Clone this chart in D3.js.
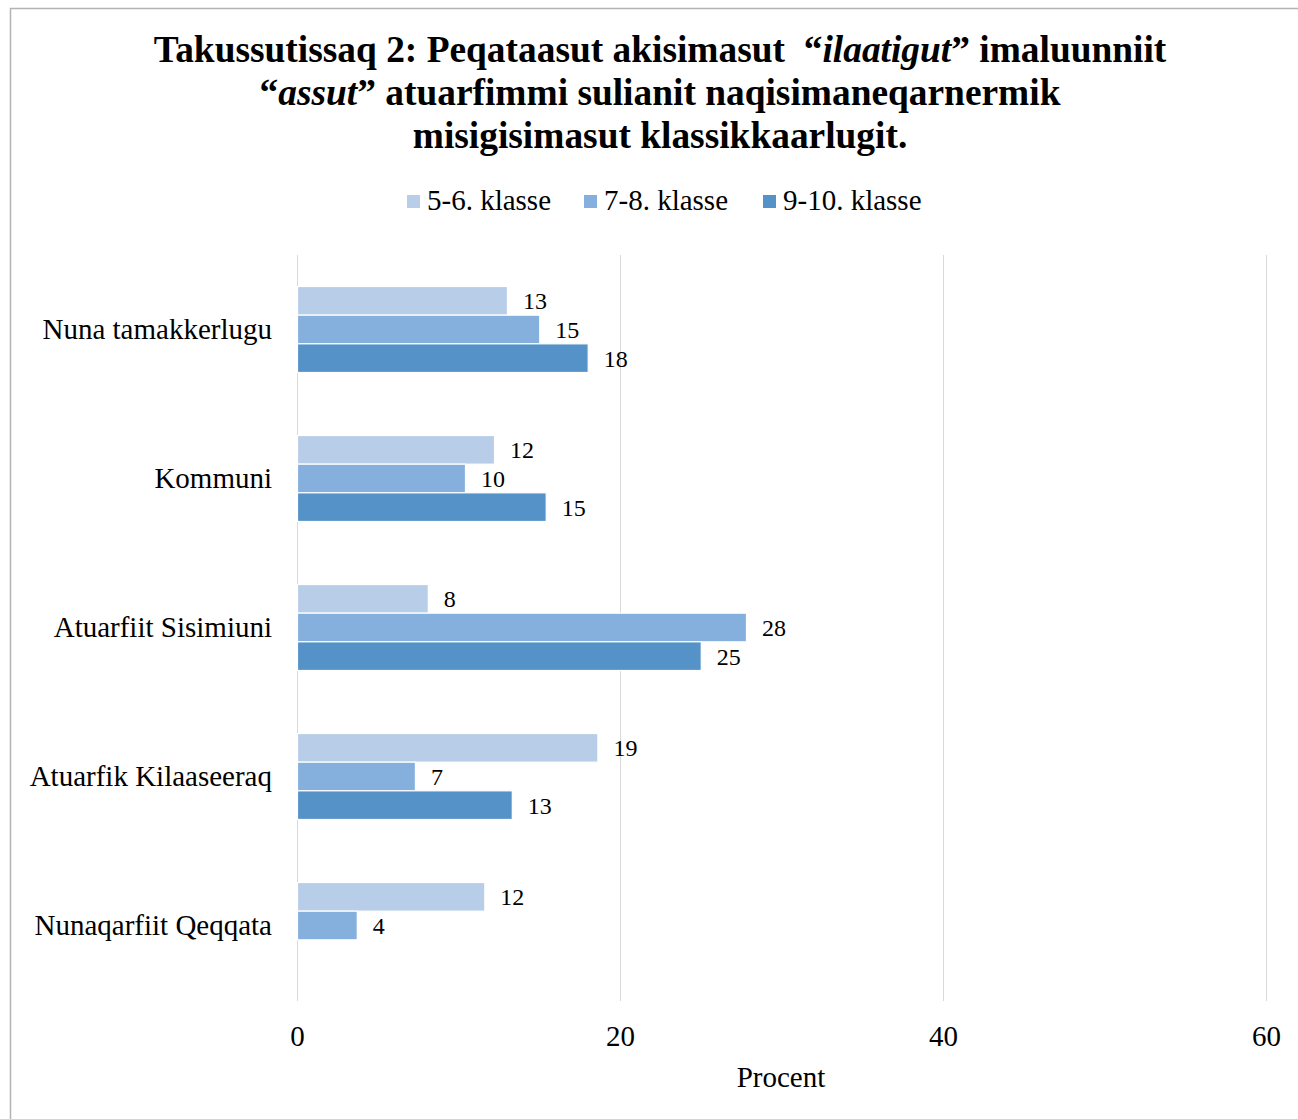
<!DOCTYPE html>
<html><head><meta charset="utf-8">
<script src="https://cdn.jsdelivr.net/npm/d3@7"></script>
<style>body{margin:0;background:#fff}svg{display:block}</style>
</head><body>
<svg id="c" width="1298" height="1119"></svg>
<script>
const categories = ["Nuna tamakkerlugu","Kommuni","Atuarfiit Sisimiuni","Atuarfik Kilaaseeraq","Nunaqarfiit Qeqqata"];
const seriesNames = ["5-6. klasse","7-8. klasse","9-10. klasse"];
const s56 = [13.0, 12.2, 8.1, 18.6, 11.6];
const s78 = [15.0, 10.4, 27.8, 7.3, 3.7];
const s910 = [18.0, 15.4, 25.0, 13.3, null];
const xTicks = [0, 20, 40, 60];
const colors = ["#b8cde8", "#85afdc", "#5592c8"];

const seriesVals = [s56, s78, s910];
const svg = d3.select("#c");
const font = "'Liberation Serif','Times New Roman',serif";

// border
svg.append("path").attr("d","M10.5,1200 L10.5,8.5 L1400,8.5").attr("fill","none").attr("stroke","#b3b3b3").attr("stroke-width",1.5);

// title
const title = svg.append("text").attr("x",660).attr("text-anchor","middle")
  .attr("font-family",font).attr("font-weight","bold").attr("font-size",37.4).attr("fill","#000");
const l1 = title.append("tspan").attr("x",660).attr("y",62);
l1.append("tspan").text("Takussutissaq 2: Peqataasut akisimasut\u00a0 \u201c");
l1.append("tspan").attr("font-style","italic").text("ilaatigut");
l1.append("tspan").text("\u201d imaluunniit");
const l2 = title.append("tspan").attr("x",660).attr("y",105);
l2.append("tspan").text("\u201c");
l2.append("tspan").attr("font-style","italic").text("assut");
l2.append("tspan").text("\u201d atuarfimmi sulianit naqisimaneqarnermik");
title.append("tspan").attr("x",660).attr("y",148).text("misigisimasut klassikkaarlugit.");

const x = d3.scaleLinear().domain([0,60]).range([297,1266]);
const y0 = d3.scaleBand().domain(categories).range([255,1000]).padding(0);
const y1 = d3.scaleBand().domain(seriesNames).range([0,y0.bandwidth()]).paddingInner(0).paddingOuter(1.1);

// gridlines
svg.append("g").selectAll("line").data(xTicks).join("line")
  .attr("x1",d=>x(d)+0.5).attr("x2",d=>x(d)+0.5).attr("y1",255).attr("y2",1001)
  .attr("stroke","#d9d9d9").attr("stroke-width",1);

// x axis labels via d3 axis
const xa = svg.append("g").attr("transform","translate(0,1001)")
  .call(d3.axisBottom(x).tickValues(xTicks).tickSize(0).tickPadding(0).tickFormat(d3.format("d")));
xa.select(".domain").remove();
xa.selectAll("text").attr("font-family",font).attr("font-size",29).attr("fill","#000").attr("dy",null).attr("y",45);

// y axis labels
const ya = svg.append("g").attr("transform","translate(297,0)")
  .call(d3.axisLeft(y0).tickSize(0).tickPadding(25));
ya.select(".domain").remove();
ya.selectAll("text").attr("font-family",font).attr("font-size",29).attr("fill","#000");

// bars
const g = svg.append("g");
categories.forEach((c,i)=>{
  seriesNames.forEach((s,j)=>{
    const v = seriesVals[j][i];
    if(v==null) return;
    const yy = y0(c)+y1(s);
    g.append("rect").attr("x",x(0)+0.5).attr("y",yy).attr("width",x(v)-x(0)).attr("height",y1.bandwidth())
      .attr("fill",colors[j]).attr("stroke","#fff").attr("stroke-width",1.2);
    g.append("text").attr("x",x(v)+16).attr("y",yy+y1.bandwidth()/2).attr("dy","0.35em")
      .attr("font-family",font).attr("font-size",24).attr("fill","#000").text(d3.format(".0f")(v));
  });
});

// axis title
svg.append("text").attr("x",781).attr("y",1087).attr("text-anchor","middle")
  .attr("font-family",font).attr("font-size",29).attr("fill","#000").text("Procent");

// legend
const legX = [407, 584, 763];
const lg = svg.append("g");
seriesNames.forEach((s,j)=>{
  lg.append("rect").attr("x",legX[j]).attr("y",195).attr("width",13).attr("height",13).attr("fill",colors[j]);
  lg.append("text").attr("x",legX[j]+20).attr("y",210).attr("font-family",font).attr("font-size",29).attr("fill","#000").text(s);
});
</script>
</body></html>
